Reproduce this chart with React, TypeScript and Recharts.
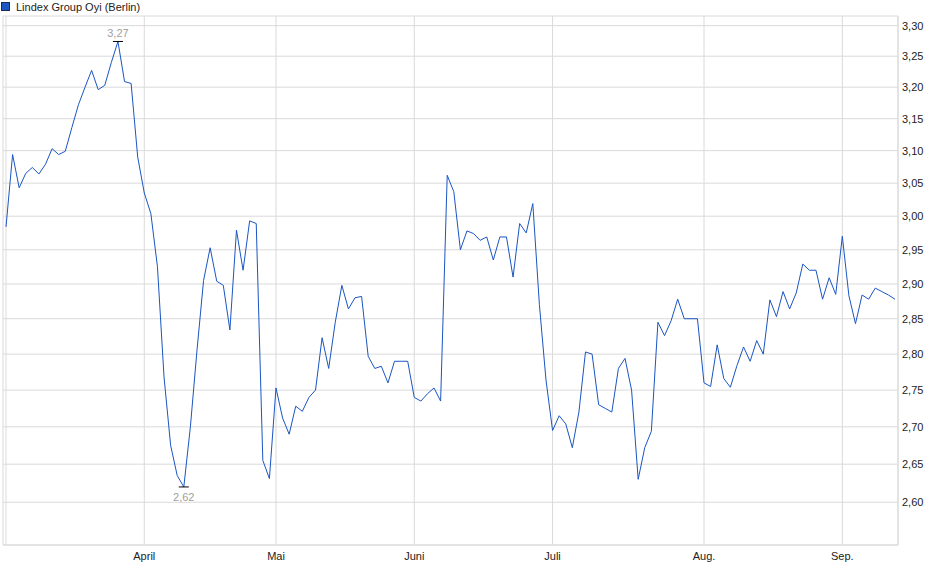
import React from 'react';
import {
  LineChart,
  Line,
  XAxis,
  YAxis,
  CartesianGrid,
  ReferenceLine,
} from 'recharts';

// ─── Data ─────────────────────────────────────────────────
const title = 'Lindex Group Oyi (Berlin)';

// daily closing prices, mid-March to mid-September
const prices = [
  2.984, 3.094, 3.043, 3.065, 3.074, 3.064, 3.079, 3.103, 3.094, 3.099,
  3.136, 3.172, 3.2, 3.227, 3.196, 3.203, 3.24, 3.274, 3.209, 3.206,
  3.09, 3.035, 3.004, 2.925, 2.768, 2.675, 2.635, 2.62, 2.7, 2.805,
  2.905, 2.953, 2.904, 2.898, 2.834, 2.979, 2.92, 2.993, 2.989, 2.655,
  2.631, 2.753, 2.712, 2.69, 2.728, 2.721, 2.74, 2.75, 2.823, 2.78,
  2.845, 2.898, 2.864, 2.88, 2.882, 2.797, 2.78, 2.783, 2.76, 2.79,
  2.79, 2.79, 2.74, 2.735, 2.745, 2.753, 2.735, 3.062, 3.037, 2.95,
  2.978, 2.974, 2.964, 2.969, 2.935, 2.969, 2.969, 2.91, 2.989, 2.975,
  3.019, 2.87, 2.764, 2.695, 2.715, 2.704, 2.672, 2.72, 2.803, 2.8,
  2.73, 2.725, 2.72, 2.78, 2.794, 2.75, 2.63, 2.672, 2.694, 2.845,
  2.826, 2.847, 2.878, 2.85, 2.85, 2.85, 2.76, 2.755, 2.813, 2.766,
  2.754, 2.784, 2.81, 2.79, 2.819, 2.8, 2.877, 2.853, 2.889, 2.864,
  2.887, 2.929, 2.92, 2.92, 2.878, 2.909, 2.885, 2.97, 2.883, 2.843,
  2.884, 2.878, 2.894, 2.889, 2.884, 2.878,
];

// index of the first trading day of each month
const monthStarts = [21, 41, 62, 83, 106, 127];
const monthLabels = ['April', 'Mai', 'Juni', 'Juli', 'Aug.', 'Sep.'];

const priceTicks = [2.6, 2.65, 2.7, 2.75, 2.8, 2.85, 2.9, 2.95, 3.0, 3.05, 3.1, 3.15, 3.2, 3.25, 3.3];

const data = prices.map((p, i) => ({ i, p }));

const LINE = '#1a55c2';
const GRID = '#dadada';
const FONT = "Arial, 'Liberation Sans', sans-serif";

const fmt = (v: number) => (Math.floor(v * 100 + 1e-6) / 100).toFixed(2).replace('.', ',');

const maxIdx = prices.indexOf(Math.max(...prices));
const minIdx = prices.indexOf(Math.min(...prices));

// marks the high and low of the period
function ExtremeDot(props: any) {
  const { cx, cy, index } = props;
  if (index !== maxIdx && index !== minIdx) return <g key={`d${index}`} />;
  const high = index === maxIdx;
  return (
    <g key={`d${index}`}>
      <line x1={cx - 5} x2={cx + 5} y1={cy} y2={cy} stroke="#000" strokeWidth={1} />
      <text
        x={cx}
        y={high ? cy - 4 : cy + 14}
        textAnchor="middle"
        fontSize={11}
        fontFamily={FONT}
        fill="#a0a0a0"
      >
        {fmt(prices[index])}
      </text>
    </g>
  );
}

export default function App() {
  return (
    <div
      style={{
        position: 'absolute',
        left: 0,
        top: 0,
        width: 940,
        height: 579,
        background: '#fff',
        fontFamily: FONT,
      }}
    >
      {/* Legend */}
      <div style={{ position: 'absolute', left: 1, top: 0, display: 'flex', alignItems: 'center', height: 13 }}>
        <span
          style={{
            display: 'inline-block',
            width: 7,
            height: 7,
            background: LINE,
            border: '1px solid #1a2a50',
            marginRight: 6,
          }}
        />
        <span style={{ fontSize: 11, color: '#222' }}>{title}</span>
      </div>

      <LineChart
        width={940}
        height={579}
        data={data}
        margin={{ top: 16, right: 0, bottom: 0, left: 3 }}
      >
        <CartesianGrid stroke={GRID} strokeWidth={1} />
        <XAxis
          dataKey="i"
          type="number"
          domain={[0, prices.length - 1]}
          ticks={monthStarts}
          tickFormatter={(v: number) => monthLabels[monthStarts.indexOf(v)]}
          padding={{ left: 3, right: 3 }}
          height={34}
          tickLine={false}
          tickSize={0}
          tickMargin={7}
          axisLine={{ stroke: GRID }}
          tick={{ fill: '#222', fontSize: 11, fontFamily: FONT }}
          interval={0}
        />
        <XAxis
          xAxisId="top"
          orientation="top"
          type="number"
          domain={[0, prices.length - 1]}
          height={0}
          tick={false}
          tickLine={false}
          axisLine={{ stroke: GRID }}
        />
        <YAxis
          orientation="right"
          type="number"
          scale="log"
          domain={[2.545, 3.316]}
          allowDataOverflow
          ticks={priceTicks}
          tickFormatter={fmt}
          width={42}
          tickLine={false}
          tickSize={0}
          tickMargin={4}
          axisLine={{ stroke: GRID }}
          tick={{ fill: '#222', fontSize: 11, fontFamily: FONT }}
          interval={0}
        />
        <YAxis
          yAxisId="left"
          orientation="left"
          type="number"
          domain={[0, 1]}
          width={0}
          tick={false}
          tickLine={false}
          axisLine={{ stroke: GRID }}
        />
        <ReferenceLine x={0} stroke={GRID} />
        <Line
          type="linear"
          dataKey="p"
          stroke={LINE}
          strokeWidth={1}
          dot={ExtremeDot}
          activeDot={false}
          isAnimationActive={false}
        />
      </LineChart>
    </div>
  );
}
